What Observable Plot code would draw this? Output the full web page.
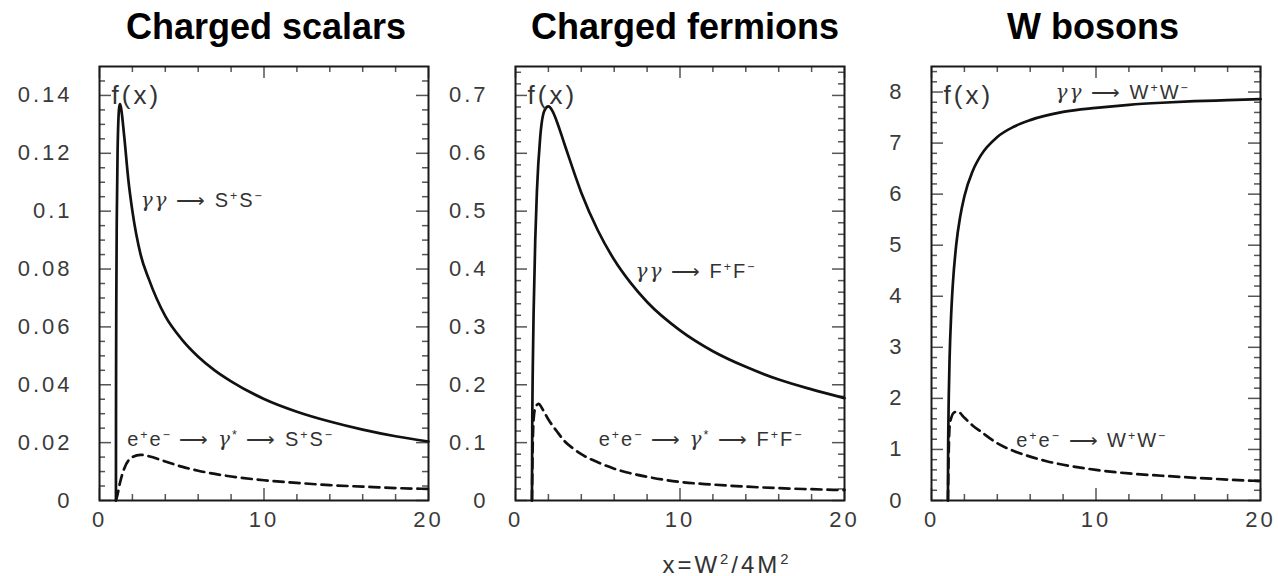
<!DOCTYPE html>
<html><head><meta charset="utf-8">
<script src="https://cdn.jsdelivr.net/npm/d3@7"></script>
<script src="https://cdn.jsdelivr.net/npm/@observablehq/plot@0.6"></script>
<style>
html,body{margin:0;padding:0;background:#fff;}
#chart{position:relative;width:1278px;height:576px;overflow:hidden;background:#fff;}
#chart > svg{position:absolute;top:0;}
</style></head><body><div id="chart"></div>
<script>
// ---------- shared x axis ----------
const xDomain = [0, 20];
const xMajorTicks = [0, 10, 20];
const xMinorTicks = [2, 4, 6, 8, 12, 14, 16, 18];
const xTickLabels = [0, 10, 20];
const xAxisTitle = "x=W²/4M²";

// ---------- panel 1 : charged scalars ----------
const scalarTitle = "Charged scalars";
const scalarYMax = 0.15;
const scalarYLabels = [0, 0.02, 0.04, 0.06, 0.08, 0.1, 0.12, 0.14];
const scalarYMinorStep = 0.005;
const scalarGGx = [1, 1.003, 1.01, 1.02, 1.05, 1.1, 1.2, 1.25, 1.3, 1.5, 1.75, 2, 2.5, 3, 4, 5, 6, 7, 8, 10, 12, 14, 16, 18, 20];
const scalarGGf = [0, 0.027, 0.049, 0.067, 0.097, 0.121, 0.136, 0.137, 0.136, 0.126, 0.111, 0.100, 0.085, 0.0765, 0.0637, 0.0557, 0.0497, 0.045, 0.0412, 0.0351, 0.0307, 0.0273, 0.0245, 0.0222, 0.0204];
const scalarEEx = [1, 1.1, 1.25, 1.5, 2, 2.5, 3, 4, 5, 6, 8, 10, 12, 14, 16, 18, 20];
const scalarEEf = [0, 0.0022, 0.0062, 0.011, 0.015, 0.0158, 0.0153, 0.0135, 0.0117, 0.0103, 0.0083, 0.0070, 0.0061, 0.0053, 0.0048, 0.0043, 0.0040];
const scalarLabelGG = "γγ ⟶ S⁺S⁻";
const scalarLabelEE = "e⁺e⁻ ⟶ γ* ⟶ S⁺S⁻";

// ---------- panel 2 : charged fermions ----------
const fermionTitle = "Charged fermions";
const fermionYMax = 0.75;
const fermionYLabels = [0, 0.1, 0.2, 0.3, 0.4, 0.5, 0.6, 0.7];
const fermionYMinorStep = 0.02;
const fermionGGx = [1, 1.02, 1.05, 1.1, 1.2, 1.3, 1.5, 1.75, 2, 2.25, 2.5, 3, 4, 5, 6, 7, 8, 10, 12, 14, 16, 18, 20];
const fermionGGf = [0, 0.143, 0.227, 0.323, 0.45, 0.533, 0.627, 0.673, 0.681, 0.673, 0.656, 0.614, 0.532, 0.467, 0.416, 0.376, 0.343, 0.294, 0.258, 0.231, 0.209, 0.192, 0.177];
const fermionEEx = [1, 1.05, 1.1, 1.2, 1.4, 1.7, 2, 2.5, 3, 3.5, 4, 5, 6, 7, 8, 10, 12, 14, 16, 18, 20];
const fermionEEf = [0, 0.10, 0.14, 0.160, 0.167, 0.155, 0.140, 0.120, 0.102, 0.090, 0.080, 0.066, 0.055, 0.047, 0.041, 0.032, 0.0275, 0.024, 0.0213, 0.0195, 0.018];
const fermionLabelGG = "γγ ⟶ F⁺F⁻";
const fermionLabelEE = "e⁺e⁻ ⟶ γ* ⟶ F⁺F⁻";

// ---------- panel 3 : W bosons ----------
const wTitle = "W bosons";
const wYMax = 8.5;
const wYLabels = [0, 1, 2, 3, 4, 5, 6, 7, 8];
const wYMinorStep = 0.2;
const wGGx = [1, 1.005, 1.02, 1.05, 1.1, 1.2, 1.3, 1.5, 1.75, 2, 2.5, 3, 4, 5, 6, 8, 10, 12, 14, 16, 18, 20];
const wGGf = [0, 0.67, 1.32, 2.04, 2.78, 3.67, 4.25, 5.0, 5.57, 5.96, 6.45, 6.76, 7.12, 7.32, 7.45, 7.61, 7.69, 7.75, 7.79, 7.82, 7.84, 7.86];
const wEEx = [1, 1.05, 1.1, 1.2, 1.4, 1.6, 2, 2.5, 3, 4, 5, 6, 7, 8, 10, 12, 14, 16, 18, 20];
const wEEf = [0, 1.0, 1.45, 1.62, 1.73, 1.74, 1.62, 1.47, 1.35, 1.12, 0.97, 0.86, 0.77, 0.70, 0.60, 0.53, 0.485, 0.445, 0.41, 0.38];
const wLabelGG = "γγ ⟶ W⁺W⁻";
const wLabelEE = "e⁺e⁻ ⟶ W⁺W⁻";

const fLabel = "f(x)";

// ---------- helpers ----------
const zip = (xs, ys) => xs.map((x, i) => ({x, y: ys[i]}));
const fmt = d => String(+d.toFixed(3));
const FONT = "'Liberation Sans', Arial, Helvetica, sans-serif";
const MT = 66, MB = 76, H = 576;
const TICK = {stroke: "#555", strokeWidth: 1.5};

// inward ticks on all four sides (tick marks spanning only `len` px of the frame)
function inwardTicks(yTicks, xTicks, len, fw, fh) {
  return [
    Plot.tickY(yTicks, {y: d => d, insetRight: fw - len, ...TICK}),
    Plot.tickY(yTicks, {y: d => d, insetLeft: fw - len, ...TICK}),
    Plot.tickX(xTicks, {x: d => d, insetTop: fh - len, ...TICK}),
    Plot.tickX(xTicks, {x: d => d, insetBottom: fh - len, ...TICK})
  ];
}

const SUP = {"⁺": "+", "⁻": "−", "*": "*", "²": "2"};

function panel(cfg) {
  const fw = cfg.width - cfg.marginLeft - cfg.marginRight;
  const fh = H - MT - MB;
  const yMinor = d3.ticks(0, cfg.yMax, Math.round(cfg.yMax / cfg.yMinorStep)).filter(v => v < cfg.yMax - 1e-9 && !cfg.yLabels.some(m => Math.abs(m - v) < 1e-9));
  const marks = [
    ...inwardTicks(yMinor, xMinorTicks, 6, fw, fh),
    ...inwardTicks(cfg.yLabels, xMajorTicks, 12, fw, fh),
    Plot.axisY(cfg.yLabels, {anchor: "left", tickSize: 0, tickPadding: 27, tickFormat: fmt, label: null, fill: "#3a3a3a", fontSize: 22}),
    Plot.axisX(xTickLabels, {anchor: "bottom", tickSize: 0, tickPadding: 11, tickFormat: fmt, label: null, fill: "#3a3a3a", fontSize: 22}),
    Plot.frame({stroke: "#1a1a1a", strokeWidth: 2}),
    Plot.line(zip(cfg.ggx, cfg.ggf), {x: "x", y: "y", curve: "monotone-x", stroke: "#111", strokeWidth: 2.7}),
    Plot.line(zip(cfg.eex, cfg.eef), {x: "x", y: "y", curve: "monotone-x", stroke: "#111", strokeWidth: 2.7, strokeDasharray: "10,6"}),
    Plot.text(cfg.labels, {x: "x", y: "y", text: "text", textAnchor: "start", lineAnchor: "bottom", fontSize: 20, fill: "#333"}),
    Plot.text([fLabel], {frameAnchor: "top-left", dx: 12, dy: 37, lineAnchor: "bottom", textAnchor: "start", fontSize: 26, fill: "#333"}),
    Plot.text([cfg.title], {frameAnchor: "top", dx: cfg.titleDx, dy: -28, lineAnchor: "bottom", fontSize: 36, fontWeight: "bold", fill: "#000"})
  ];
  if (cfg.xTitle) marks.push(Plot.text([cfg.xTitle], {frameAnchor: "bottom", dx: 47, dy: 72, lineAnchor: "bottom", fontSize: 24, fill: "#333"}));
  const svg = Plot.plot({
    width: cfg.width, height: H,
    marginLeft: cfg.marginLeft, marginRight: cfg.marginRight, marginTop: MT, marginBottom: MB,
    style: {background: "transparent", overflow: "visible", fontFamily: FONT, color: "#333"},
    x: {domain: xDomain},
    y: {domain: [0, cfg.yMax]},
    marks
  });
  svg.style.left = cfg.left + "px";
  // typography: spacing like the original, italic gamma and raised charges in process labels
  d3.select(svg).selectAll("text").each(function () {
    const t = this.textContent;
    if (t === cfg.title) { this.style.letterSpacing = "0px"; return; }
    const isProc = t.includes("⟶");
    const isXT = t === cfg.xTitle;
    this.style.letterSpacing = isProc ? "2px" : "3px";
    if (isProc || isXT) {
      const sel = d3.select(this);
      sel.text(null);
      const runs = [];
      for (const ch of t) {
        const kind = ch === "γ" ? "it" : (ch in SUP ? "sup" : "n");
        const last = runs[runs.length - 1];
        if (last && last.kind === kind && kind !== "sup") last.s += ch; else runs.push({kind, s: ch});
      }
      let shifted = false;
      for (const r of runs) {
        const ts = sel.append("tspan");
        if (r.kind === "sup") {
          ts.text(SUP[r.s]).attr("font-size", "0.62em").attr("dy", shifted ? null : "-0.55em");
          shifted = true;
        } else {
          ts.text(r.s);
          if (shifted) { ts.attr("dy", "0.341em"); shifted = false; }
          if (r.kind === "it") ts.attr("font-style", "italic").attr("font-family", "'DejaVu Serif', 'Liberation Serif', serif");
        }
      }
    }
  });
  return svg;
}

const chart = document.getElementById("chart");
chart.append(panel({
  left: 0, width: 440, marginLeft: 99, marginRight: 12,
  yMax: scalarYMax, yLabels: scalarYLabels, yMinorStep: scalarYMinorStep,
  ggx: scalarGGx, ggf: scalarGGf, eex: scalarEEx, eef: scalarEEf,
  labels: [{x: 2.5, y: 0.1015, text: scalarLabelGG}, {x: 1.68, y: 0.019, text: scalarLabelEE}],
  title: scalarTitle, titleDx: 2
}));
chart.append(panel({
  left: 440, width: 416, marginLeft: 75, marginRight: 12,
  yMax: fermionYMax, yLabels: fermionYLabels, yMinorStep: fermionYMinorStep,
  ggx: fermionGGx, ggf: fermionGGf, eex: fermionEEx, eef: fermionEEf,
  labels: [{x: 7.3, y: 0.385, text: fermionLabelGG}, {x: 5.06, y: 0.095, text: fermionLabelEE}],
  title: fermionTitle, titleDx: 5, xTitle: xAxisTitle
}));
chart.append(panel({
  left: 856, width: 422, marginLeft: 75, marginRight: 18,
  yMax: wYMax, yLabels: wYLabels, yMinorStep: wYMinorStep,
  ggx: wGGx, ggf: wGGf, eex: wEEx, eef: wEEf,
  labels: [{x: 7.54, y: 7.86, text: wLabelGG}, {x: 5.15, y: 1.046, text: wLabelEE}],
  title: wTitle, titleDx: -3
}));
</script></body></html>
